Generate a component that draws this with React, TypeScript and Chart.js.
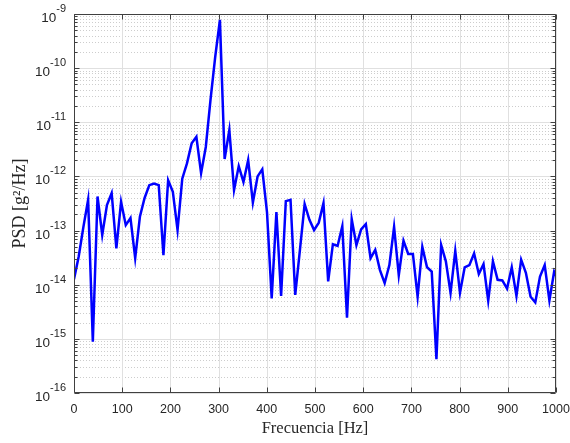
import React, { useEffect, useRef } from 'react';
import { Chart, registerables } from 'chart.js';

Chart.register(...registerables);

// Frequency resolution of the PSD (Hz per bin)
const FREQ_STEP = 9.765625;

// PSD values [g^2/Hz], one per frequency bin starting at 0 Hz
const PSD_VALUES = [
  1.26e-14, 3.31e-14, 1.17e-13, 3.72e-13, 8.9e-16, 4.27e-13, 8.3e-14, 2.95e-13, 4.9e-13, 4.7e-14,
  3.4e-13, 1.26e-13, 1.7e-13, 3.1e-14, 1.8e-13, 4.0e-13, 6.9e-13, 7.4e-13, 6.9e-13, 3.5e-14,
  8.5e-13, 5.2e-13, 1.02e-13, 9.1e-13, 1.74e-12, 4.1e-12, 5.4e-12, 1.15e-12, 3.5e-12, 2.6e-11,
  1.62e-10, 7.8e-10, 2.1e-12, 7.2e-12, 5.6e-13, 1.55e-12, 7.9e-13, 2.0e-12, 3.3e-13, 1.0e-12,
  1.35e-12, 2.2e-13, 5.6e-15, 2.2e-13, 6.2e-15, 3.5e-13, 3.7e-13, 6.5e-15, 4.4e-14, 3.1e-13,
  1.6e-13, 1.02e-13, 1.4e-13, 3.2e-13, 1.15e-14, 5.6e-14, 5.2e-14, 1.2e-13, 2.45e-15, 1.62e-13,
  5.4e-14, 1.05e-13, 1.32e-13, 3.1e-14, 4.4e-14, 1.86e-14, 1.07e-14, 2.3e-14, 1.17e-13, 1.5e-14,
  6.5e-14, 3.7e-14, 3.7e-14, 6.0e-15, 5.0e-14, 2.1e-14, 1.74e-14, 4.2e-16, 5.4e-14, 2.7e-14,
  7.1e-15, 4.2e-14, 7.1e-15, 2.1e-14, 2.3e-14, 3.8e-14, 1.58e-14, 2.4e-14, 5.1e-15, 2.7e-14,
  1.23e-14, 1.2e-14, 8.5e-15, 2.1e-14, 6.2e-15, 2.9e-14, 1.66e-14, 6.0e-15, 4.7e-15, 1.41e-14,
  2.3e-14, 5.1e-15, 1.74e-14, 1.12e-14,
];

const X_TICKS = [0, 100, 200, 300, 400, 500, 600, 700, 800, 900, 1000];
const Y_EXPONENTS = [-16, -15, -14, -13, -12, -11, -10, -9];
const Y_MINOR_MANTISSAS = [2, 3, 4, 5, 6, 7, 8, 9];

const X_TITLE = 'Frecuencia [Hz]';
const Y_TITLE = 'PSD [g²/Hz]';

const AXIS_COLOR = '#404040';
const TEXT_COLOR = '#262626';
const SANS = '"Liberation Sans", Arial, sans-serif';
const SERIF = '"Liberation Serif", "Times New Roman", serif';

const matlabAxes = {
  id: 'matlabAxes',
  beforeDatasetsDraw(chart: any) {
    const { ctx, chartArea: a, scales } = chart;
    const x = scales.x;
    const y = scales.y;
    ctx.save();
    ctx.lineWidth = 1;
    // minor horizontal grid (dotted)
    ctx.strokeStyle = '#cdcdcd';
    ctx.setLineDash([1, 2]);
    for (let i = 0; i < Y_EXPONENTS.length - 1; i++) {
      for (const m of Y_MINOR_MANTISSAS) {
        const py = Math.round(y.getPixelForValue(m * Math.pow(10, Y_EXPONENTS[i]))) + 0.5;
        ctx.beginPath();
        ctx.moveTo(a.left, py);
        ctx.lineTo(a.right, py);
        ctx.stroke();
      }
    }
    ctx.setLineDash([]);
    // major grid
    ctx.strokeStyle = '#e0e0e0';
    for (const e of Y_EXPONENTS) {
      const py = Math.round(y.getPixelForValue(Math.pow(10, e))) + 0.5;
      ctx.beginPath();
      ctx.moveTo(a.left, py);
      ctx.lineTo(a.right, py);
      ctx.stroke();
    }
    for (const t of X_TICKS) {
      const px = Math.round(x.getPixelForValue(t)) + 0.5;
      ctx.beginPath();
      ctx.moveTo(px, a.top);
      ctx.lineTo(px, a.bottom);
      ctx.stroke();
    }
    ctx.restore();
  },
  afterDatasetsDraw(chart: any) {
    const { ctx, chartArea: a, scales } = chart;
    const x = scales.x;
    const y = scales.y;
    ctx.save();
    ctx.lineWidth = 1;
    ctx.strokeStyle = AXIS_COLOR;
    const L = Math.round(a.left) + 0.5;
    const R = Math.round(a.right) - 0.5;
    const T = Math.round(a.top) + 0.5;
    const B = Math.round(a.bottom) - 0.5;
    ctx.beginPath();
    ctx.rect(L, T, R - L, B - T);
    ctx.stroke();
    // x ticks (inward, top and bottom)
    for (const t of X_TICKS) {
      const px = Math.round(x.getPixelForValue(t)) + 0.5;
      ctx.beginPath();
      ctx.moveTo(px, B);
      ctx.lineTo(px, B - 5);
      ctx.moveTo(px, T);
      ctx.lineTo(px, T + 5);
      ctx.stroke();
    }
    // y ticks major + minor (inward, left and right)
    for (let i = 0; i < Y_EXPONENTS.length; i++) {
      const e = Y_EXPONENTS[i];
      const py = Math.round(y.getPixelForValue(Math.pow(10, e))) + 0.5;
      ctx.beginPath();
      ctx.moveTo(L, py);
      ctx.lineTo(L + 5, py);
      ctx.moveTo(R, py);
      ctx.lineTo(R - 5, py);
      ctx.stroke();
      if (i < Y_EXPONENTS.length - 1) {
        for (const m of Y_MINOR_MANTISSAS) {
          const pm = Math.round(y.getPixelForValue(m * Math.pow(10, e))) + 0.5;
          ctx.beginPath();
          ctx.moveTo(L, pm);
          ctx.lineTo(L + 3, pm);
          ctx.moveTo(R, pm);
          ctx.lineTo(R - 3, pm);
          ctx.stroke();
        }
      }
    }
    // y tick labels 10^e with superscript
    ctx.fillStyle = TEXT_COLOR;
    ctx.textAlign = 'right';
    ctx.textBaseline = 'alphabetic';
    const rightEdge = a.left - 8;
    for (const e of Y_EXPONENTS) {
      const py = y.getPixelForValue(Math.pow(10, e));
      const expStr = String(e);
      ctx.font = `11px ${SANS}`;
      const ew = ctx.measureText(expStr).width;
      ctx.fillText(expStr, rightEdge, py - 2);
      ctx.font = `13.5px ${SANS}`;
      ctx.fillText('10', rightEdge - ew, py + 8);
    }
    ctx.restore();
  },
};

export default function App() {
  const canvasRef = useRef<HTMLCanvasElement | null>(null);

  useEffect(() => {
    document.body.style.margin = '0';
    const canvas = canvasRef.current;
    if (!canvas) return;
    const points = PSD_VALUES.map((v, i) => ({ x: i * FREQ_STEP, y: v }));
    const chart = new Chart(canvas, {
      type: 'line',
      data: {
        datasets: [
          {
            data: points,
            borderColor: '#0000ff',
            borderWidth: 2.5,
            pointRadius: 0,
            fill: false,
            tension: 0,
          },
        ],
      },
      options: {
        animation: false,
        responsive: true,
        maintainAspectRatio: false,
        layout: { padding: { left: 0, top: 14, right: 14, bottom: 0 } },
        plugins: {
          legend: { display: false },
          tooltip: { enabled: false },
        },
        scales: {
          x: {
            type: 'linear',
            min: 0,
            max: 1000,
            grid: { display: false, drawTicks: false },
            border: { display: false },
            ticks: {
              stepSize: 100,
              padding: 9,
              color: TEXT_COLOR,
              font: { family: SANS, size: 12.5 },
              maxRotation: 0,
              autoSkip: false,
              callback: (v: any) => String(v),
            },
            title: {
              display: true,
              text: X_TITLE,
              color: TEXT_COLOR,
              font: { family: SERIF, size: 16.5 },
              padding: { top: 0, bottom: 4 },
            },
            afterFit: (s: any) => {
              s.height = 50;
              s.paddingLeft = 0;
              s.paddingRight = 0;
            },
          },
          y: {
            type: 'logarithmic',
            min: 1e-16,
            max: 1e-9,
            grid: { display: false, drawTicks: false },
            border: { display: false },
            ticks: { display: false },
            title: {
              display: true,
              text: Y_TITLE,
              color: TEXT_COLOR,
              font: { family: SERIF, size: 18 },
              padding: { top: 9, bottom: 0 },
            },
            afterFit: (s: any) => {
              s.width = 74;
              s.paddingTop = 0;
              s.paddingBottom = 0;
            },
          },
        },
      },
      plugins: [matlabAxes],
    });
    return () => chart.destroy();
  }, []);

  return (
    <div style={{ width: 570, height: 443, position: 'relative' }}>
      <canvas ref={canvasRef} />
    </div>
  );
}
